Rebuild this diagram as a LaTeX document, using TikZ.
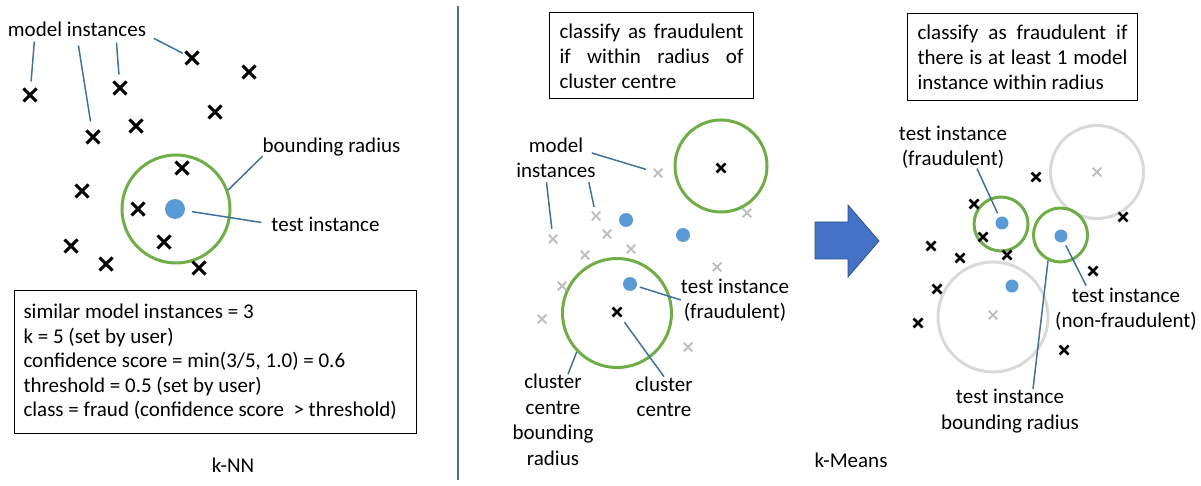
\documentclass[tikz,border=0pt]{standalone}
\usepackage{fontspec}
\setmainfont{Carlito}
\usetikzlibrary{shapes.misc}
\definecolor{leadblue}{HTML}{41719C}
\definecolor{dotblue}{HTML}{5B9BD5}
\definecolor{ringgreen}{HTML}{70AD47}
\definecolor{ringgray}{HTML}{D9D9D9}
\definecolor{crossgray}{HTML}{BFBFBF}
\definecolor{arrowblue}{HTML}{4472C4}
\definecolor{arrowedge}{HTML}{2F528F}
\definecolor{sepblue}{HTML}{50708F}
\tikzset{
  txt/.style={font=\fontsize{21}{25.5}\selectfont, inner sep=0pt, align=flush center},
  infobox/.style={draw, line width=1pt, font=\fontsize{21}{25}\selectfont,
    align=justify, inner xsep=10pt, inner ysep=0pt},
  bigcross/.style={cross out, draw, line width=3pt, minimum size=10pt, inner sep=0pt},
  smallcross/.style={cross out, draw, line width=2.5pt, minimum size=6.5pt, inner sep=0pt},
  greycross/.style={smallcross, draw=crossgray, line width=2pt},
  testpt/.style={circle, fill=dotblue, inner sep=0pt, minimum size=#1},
  ring/.style={circle, draw=ringgreen, line width=3pt, inner sep=0pt, minimum size=#1},
  greyring/.style={ring=#1, draw=ringgray},
  lead/.style={draw=leadblue, line width=1.5pt},
}
\begin{document}
\begin{tikzpicture}[x=1pt, y=-1pt]
  \useasboundingbox (0,0) rectangle (1201,486);

  % k-NN
  \node[ring=108pt] (kr) at (176,209) {};
  \foreach \p [count=\i] in {(30,95),(120,88),(192,58),(249,72),(215,112),(136,126),(93,137),
    (182,168),(82,191),(138,209),(164,242),(71,246),(106,264),(199,268)}
    \node[bigcross] (k\i) at \p {};
  \node[testpt=20pt] (tp) at (175,209) {};
  \node[txt] (mi) at (77,29) {model instances};
  \node[txt] (br) at (331.5,147) {bounding radius};
  \node[txt] (ti) at (325.5,224) {test instance};
  \draw[lead, shorten <=5pt, shorten >=7pt] ([xshift=27pt]mi.south west) -- (k1);
  \draw[lead, shorten <=9pt, shorten >=9pt] (mi.south) -- (k7);
  \draw[lead, shorten <=6pt, shorten >=7pt] ([xshift=39pt]mi.south) -- (k2);
  \draw[lead, shorten <=4pt, shorten >=3pt] ([xshift=4pt]mi.south east) -- (k3);
  \draw[lead] (br.south west) -- (kr.20);
  \draw[lead, shorten <=7pt, shorten >=10pt] (tp) -- (ti.west);
  \node[infobox, align=flush left, text width=384pt, minimum height=143pt, inner xsep=9pt,
    font=\fontsize{21}{24.5}\selectfont, anchor=north west] (knnbox) at (14,290)
    {similar model instances = 3\\
     k = 5 (set by user)\\
     confidence score = min(3/5, 1.0) = 0.6\\
     threshold = 0.5 (set by user)\\
     class = fraud (confidence score \ > threshold)};
  \node[txt] (knn) at (233,465) {k-NN};

  \draw[sepblue, line width=1.5pt] (458,6) -- (458,480);

  % k-Means, cluster centre
  \node[infobox, text width=184pt, minimum height=86pt] (rule1) at (651.5,56)
    {classify as fraudulent\linebreak if within radius of\linebreak cluster centre};
  \node[ring=92pt] (cc1) at (721,166) {};
  \node[ring=109pt] (cc2) at (617,313) {};
  \foreach \p [count=\i] in {(658,173),(747,213),(596,216),(553,239),(607,234),(631,249),
    (585,255),(717,267),(562,286),(542,319),(688,347)}
    \node[greycross] (g\i) at \p {};
  \node[smallcross] (c1) at (721,168) {};
  \node[smallcross] (c2) at (617,312) {};
  \node[testpt=14pt] (b1) at (626,220) {};
  \node[testpt=14pt] (b2) at (683,235) {};
  \node[testpt=14pt] (b3) at (630,284) {};
  \node[txt] (mm) at (556,158) {model\\instances};
  \node[txt] (tf) at (735,300) {test instance\\(fraudulent)};
  \node[txt] (ccl) at (664,397) {cluster\\centre};
  \node[txt] (cbr) at (553,420) {cluster\\centre\\bounding\\radius};
  \draw[lead, shorten >=8pt] ([xshift=-4pt, yshift=5pt]mm.east) -- (g1);
  \draw[lead, shorten <=4pt, shorten >=5pt] ([xshift=32pt]mm.south) -- (g3);
  \draw[lead, shorten <=4pt, shorten >=6pt] ([xshift=-10pt]mm.south) -- (g4);
  \draw[lead, shorten <=3pt] (b3) -- (tf.west);
  \draw[lead, shorten <=7pt] (c2) -- (ccl.north);
  \draw[lead] ([xshift=15pt]cbr.north) -- (cc2.224);

  \filldraw[fill=arrowblue, draw=arrowedge, line width=0.75pt] (815,222) -- (848,222) -- (848,205)
    -- (879,241) -- (848,277) -- (848,259) -- (815,259) -- cycle;
  \node[txt] (kmeans) at (851,460) {k-Means};

  % k-Means, model instances
  \node[infobox, text width=210pt, minimum height=87pt] (rule2) at (1022.5,57.5)
    {classify as fraudulent if\linebreak there is at least 1 model\linebreak instance within radius};
  \node[greyring=93pt] (gc1) at (1097,172) {};
  \node[greyring=110pt] (gc2) at (993,317) {};
  \node[greycross] (gm1) at (1097,172) {};
  \node[greycross] (gm2) at (993,315) {};
  \node[ring=54pt] (tc1) at (1001,224) {};
  \node[ring=54pt] (tc2) at (1060.5,235) {};
  \foreach \p [count=\i] in {(1036,177),(974,204),(1123,217),(983,237),(931,246),(960,258),
    (1007,255),(1093,271),(937,289),(918,323),(1064,350)}
    \node[smallcross] (r\i) at \p {};
  \node[testpt=13pt] (t1) at (1002,223) {};
  \node[testpt=13pt] (t2) at (1061,236) {};
  \node[testpt=13pt] (t3) at (1012,286) {};
  \node[txt] (rtf) at (953,147) {test instance\\(fraudulent)};
  \node[txt] (rtn) at (1126,309) {test instance\\(non-fraudulent)};
  \node[txt] (rtb) at (1010,411) {test instance\\bounding radius};
  \draw[lead, shorten >=4pt] ([xshift=24pt]rtf.south) -- (t1);
  \draw[lead, shorten <=4pt, shorten >=2pt] (t2) -- ([xshift=-39pt]rtn.north);
  \draw[lead] (tc2.244) -- ([xshift=23pt]rtb.north);
\end{tikzpicture}
\end{document}
